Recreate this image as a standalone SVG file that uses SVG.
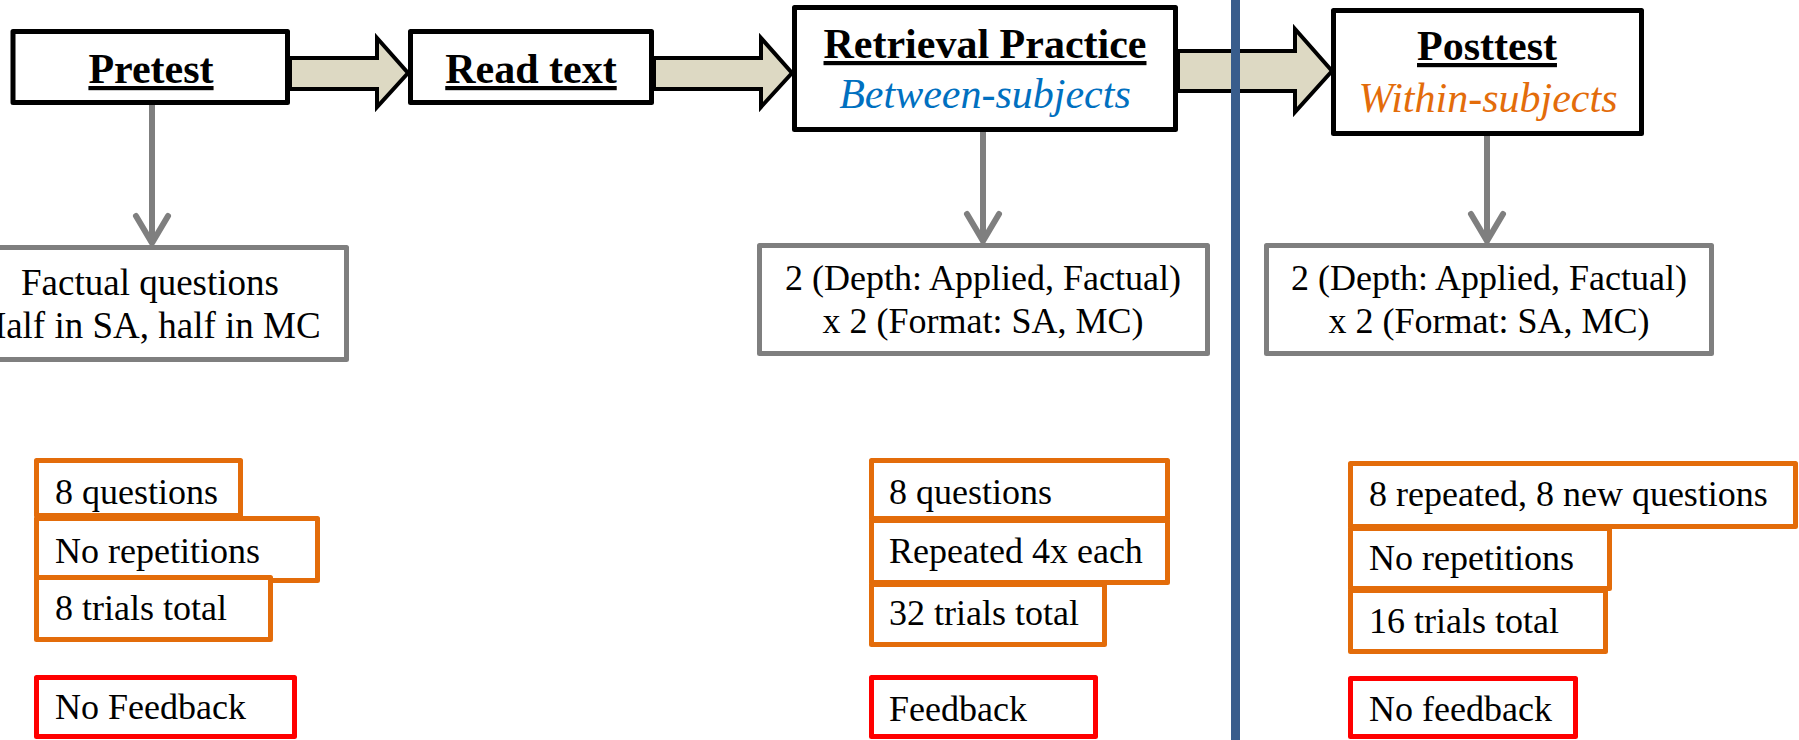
<svg xmlns="http://www.w3.org/2000/svg" width="1799" height="740" viewBox="0 0 1799 740">
<style>
.phase{fill:#fff;stroke:#000;stroke-width:5;stroke-linejoin:round}
.design{fill:#fff;stroke:#7f7f7f;stroke-width:5;stroke-linejoin:round}
.ob{fill:#fff;stroke:#e36c0a;stroke-width:5;stroke-linejoin:round}
.rb{fill:#fff;stroke:#ff0000;stroke-width:5;stroke-linejoin:round}
.blk{fill:#ddd9c3;stroke:#000;stroke-width:4;stroke-linejoin:miter}
.gray{stroke:#7f7f7f;stroke-width:6;fill:none;stroke-linecap:round;stroke-linejoin:round}
text{font-family:"Liberation Serif","Times New Roman",serif;fill:#000}
.title{font-size:42px;font-weight:bold;text-decoration:underline;text-anchor:middle}
.sub{font-size:42px;font-style:italic;text-anchor:middle}
.t{font-size:36px}
.c{text-anchor:middle}
</style>

<g id="connectors">
  <path class="blk" d="M290,58 H377 V38 L408,73 L377,107 V89 H290 Z"/>
  <path class="blk" d="M654,58 H761 V38 L792,73 L761,107 V89 H654 Z"/>
  <path class="blk" d="M1178,51 H1295 V29 L1332,71 L1295,112 V91 H1178 Z"/>
  <path class="gray" d="M152,105 V242 M136,216 L152,243 L168,216"/>
  <path class="gray" d="M983,132 V241 M967,214 L983,241 L999,214"/>
  <path class="gray" d="M1487,136 V241 M1471,214 L1487,241 L1503,214"/>
</g>

<g id="pretest">
  <rect class="phase" x="13" y="31.5" width="274.5" height="71"/>
  <text class="title" x="151" y="83">Pretest</text>
</g>
<g id="read-text">
  <rect class="phase" x="410.5" y="31.5" width="241" height="71"/>
  <text class="title" x="531" y="83">Read text</text>
</g>
<g id="retrieval-practice">
  <rect class="phase" x="794.5" y="7.5" width="381" height="122"/>
  <text class="title" x="985" y="58">Retrieval Practice</text>
  <text class="sub" x="985" y="108" fill="#0070c0" style="fill:#0070c0">Between-subjects</text>
</g>
<g id="posttest">
  <rect class="phase" x="1333.5" y="10.5" width="308" height="123"/>
  <text class="title" x="1487" y="60">Posttest</text>
  <text class="sub" x="1488" y="112" style="fill:#e36c0a">Within-subjects</text>
</g>

<g id="divider">
  <line x1="1235.5" y1="0" x2="1235.5" y2="740" stroke="#395d8c" stroke-width="9"/>
</g>

<g id="pretest-design">
  <rect class="design" x="-49" y="247.5" width="395.5" height="112"/>
  <text class="t c" x="150" y="295" style="font-size:37px">Factual questions</text>
  <text class="t c" x="150" y="338" style="font-size:37px">Half in SA, half in MC</text>
</g>
<g id="retrieval-design">
  <rect class="design" x="759.5" y="245.5" width="448" height="108"/>
  <text class="t c" x="983" y="290">2 (Depth: Applied, Factual)</text>
  <text class="t c" x="983" y="333">x 2 (Format: SA, MC)</text>
</g>
<g id="posttest-design">
  <rect class="design" x="1266.5" y="245.5" width="445" height="108"/>
  <text class="t c" x="1489" y="290">2 (Depth: Applied, Factual)</text>
  <text class="t c" x="1489" y="333">x 2 (Format: SA, MC)</text>
</g>

<g id="pretest-details">
  <rect class="ob" x="36.5" y="460.5" width="204" height="55"/>
  <text class="t" x="55" y="504">8 questions</text>
  <rect class="ob" x="36.5" y="518.5" width="281" height="62"/>
  <text class="t" x="55" y="563">No repetitions</text>
  <rect class="ob" x="36.5" y="577.5" width="234" height="62"/>
  <text class="t" x="55" y="620">8 trials total</text>
</g>
<g id="pretest-feedback">
  <rect class="rb" x="36.5" y="677.5" width="258" height="59"/>
  <text class="t" x="55" y="719">No Feedback</text>
</g>

<g id="retrieval-details">
  <rect class="ob" x="871.5" y="460.5" width="296" height="58"/>
  <text class="t" x="889" y="504">8 questions</text>
  <rect class="ob" x="871.5" y="520.5" width="296" height="62"/>
  <text class="t" x="889" y="563">Repeated 4x each</text>
  <rect class="ob" x="871.5" y="584.5" width="233" height="60"/>
  <text class="t" x="889" y="625">32 trials total</text>
</g>
<g id="retrieval-feedback">
  <rect class="rb" x="871.5" y="677.5" width="224" height="59"/>
  <text class="t" x="889" y="721">Feedback</text>
</g>

<g id="posttest-details">
  <rect class="ob" x="1350.5" y="463.5" width="445" height="63"/>
  <text class="t" x="1369" y="506">8 repeated, 8 new questions</text>
  <rect class="ob" x="1350.5" y="528.5" width="259" height="60"/>
  <text class="t" x="1369" y="570">No repetitions</text>
  <rect class="ob" x="1350.5" y="590.5" width="255" height="61"/>
  <text class="t" x="1369" y="633">16 trials total</text>
</g>
<g id="posttest-feedback">
  <rect class="rb" x="1350.5" y="678.5" width="225" height="58"/>
  <text class="t" x="1369" y="721">No feedback</text>
</g>
</svg>
